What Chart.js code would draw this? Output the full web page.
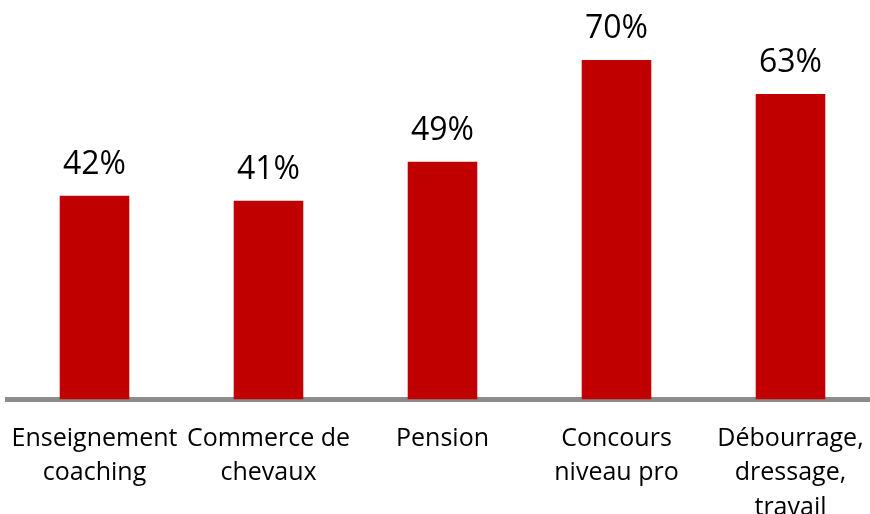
<!DOCTYPE html>
<html>
<head>
<meta charset="utf-8">
<script src="https://cdn.jsdelivr.net/npm/chart.js@4/dist/chart.umd.min.js"></script>
<style>
html,body{margin:0;padding:0;background:#fff;overflow:hidden;width:870px;height:514px;}
canvas{display:block;}
</style>
</head>
<body>
<canvas id="c" width="880" height="514"></canvas>
<script>
const categories = [
  ["Enseignement", "coaching"],
  ["Commerce de", "chevaux"],
  ["Pension"],
  ["Concours", "niveau pro"],
  ["Débourrage,", "dressage,", "travail"]
];
const values = [42, 41, 49, 70, 63];
const valueLabels = ["42%", "41%", "49%", "70%", "63%"];

const valueLabelPlugin = {
  id: 'valueLabels',
  afterDatasetsDraw(chart) {
    const ctx = chart.ctx;
    const meta = chart.getDatasetMeta(0);
    ctx.save();
    ctx.font = '32px "Open Sans"';
    ctx.fillStyle = '#000';
    ctx.textAlign = 'center';
    ctx.textBaseline = 'alphabetic';
    meta.data.forEach((bar, i) => {
      ctx.fillText(valueLabels[i], bar.x, bar.y - 22);
    });
    ctx.restore();
  }
};

new Chart(document.getElementById('c'), {
  type: 'bar',
  data: {
    labels: categories,
    datasets: [{
      data: values,
      backgroundColor: '#C00000',
      borderWidth: 0,
      categoryPercentage: 1,
      barPercentage: 0.4
    }]
  },
  options: {
    responsive: false,
    animation: false,
    events: [],
    layout: { padding: { top: 11.5, left: 7.5, right: 2.5, bottom: 0 } },
    plugins: { legend: { display: false }, tooltip: { enabled: false } },
    scales: {
      x: {
        grid: { display: false, drawTicks: false },
        border: { display: true, color: '#8c8c8c', width: 5 },
        ticks: {
          color: '#000',
          font: { family: '"Open Sans"', size: 25, lineHeight: 1.38 },
          padding: 22,
          maxRotation: 0,
          minRotation: 0,
          autoSkip: false
        },
        afterFit(scale) {
          scale.height = 114.5;
          scale.paddingLeft = 0;
          scale.paddingRight = 0;
        }
      },
      y: {
        display: false,
        min: 0,
        max: 80
      }
    }
  },
  plugins: [valueLabelPlugin]
});
</script>
</body>
</html>
